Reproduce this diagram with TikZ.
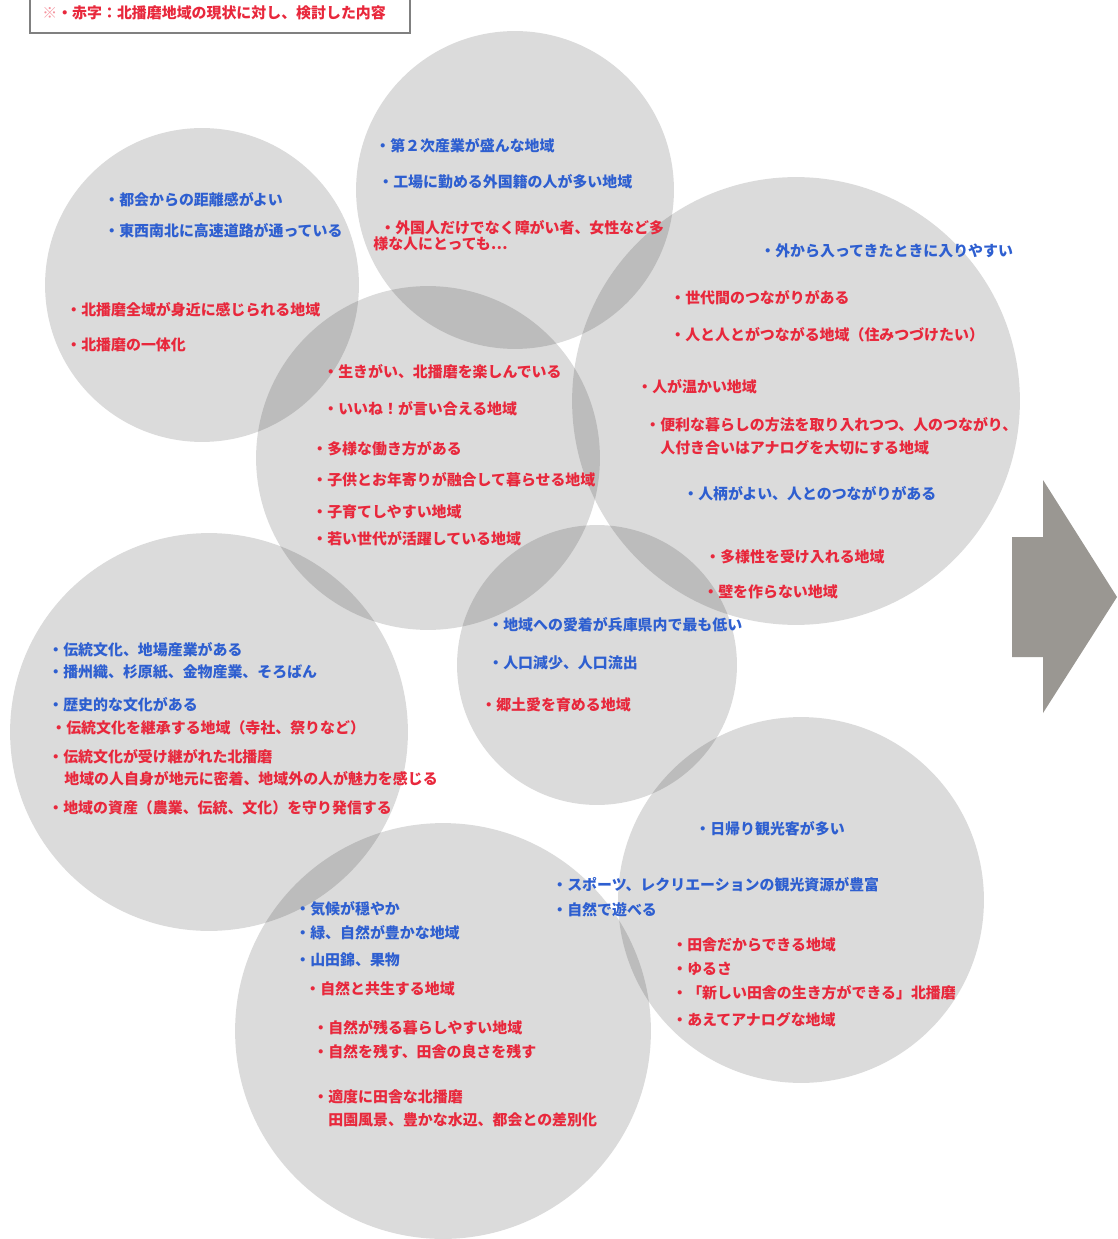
\documentclass[tikz,border=0pt]{standalone}
\usepackage{fontspec}
\setmainfont{Noto Sans CJK JP}
\definecolor{notered}{HTML}{E8283C}
\definecolor{noteblue}{HTML}{2E5FD0}
\definecolor{arrowgray}{HTML}{9A9792}
\tikzset{
	blob/.style={circle, fill=black, fill opacity=.14, inner sep=0pt, outer sep=0pt},
	item/.style={anchor=west, inner sep=0pt, font=\fontsize{8.5}{10}\selectfont\bfseries},
}
\begin{document}
\begin{tikzpicture}[x=0.02cm, y=-0.02cm]
			\useasboundingbox (0,0) rectangle (1117,1239);
			% circles
			\foreach \cx/\cy/\r [count = \i] in {202/285/157, 515/190/159, 428/458/172, 796/401/224, 209/732/199, 597/665/140, 801/900/183, 443/1031/208}
				{
					\node[blob, minimum size=\r*0.04cm] (circ\i) at (\cx,\cy) {};
				}
			% header
			\draw[gray, line width=.06em] (30,-5) rectangle (410,33);
			\node[item, text=notered] (head) at (42,13) {{\color{notered!50}※}・赤字：北播磨地域の現状に対し、検討した内容};
			% items
			\foreach \tx/\ty/\tcol/\ttext [count = \j] in {
					104/200/noteblue/・都会からの距離感がよい,
					104/231/noteblue/・東西南北に高速道路が通っている,
					66/310/notered/・北播磨全域が身近に感じられる地域,
					66/345/notered/・北播磨の一体化,
					375/146/noteblue/・第２次産業が盛んな地域,
					378/182/noteblue/・工場に勤める外国籍の人が多い地域,
					380/228/notered/・外国人だけでなく障がい者、女性など多,
					373/244/notered/様な人にとっても…,
					760/251/noteblue/・外から入ってきたときに入りやすい,
					670/298/notered/・世代間のつながりがある,
					670/335/notered/・人と人とがつながる地域（住みつづけたい）,
					637/387/notered/・人が温かい地域,
					645/425/notered/・便利な暮らしの方法を取り入れつつ、人のつながり、,
					660/448/notered/人付き合いはアナログを大切にする地域,
					683/494/noteblue/・人柄がよい、人とのつながりがある,
					705/557/notered/・多様性を受け入れる地域,
					703/592/notered/・壁を作らない地域,
					323/372/notered/・生きがい、北播磨を楽しんでいる,
					323/409/notered/・いいね！が言い合える地域,
					312/449/notered/・多様な働き方がある,
					312/480/notered/・子供とお年寄りが融合して暮らせる地域,
					312/512/notered/・子育てしやすい地域,
					312/539/notered/・若い世代が活躍している地域,
					488/625/noteblue/・地域への愛着が兵庫県内で最も低い,
					488/663/noteblue/・人口減少、人口流出,
					481/705/notered/・郷土愛を育める地域,
					48/650/noteblue/・伝統文化、地場産業がある,
					48/672/noteblue/・播州織、杉原紙、金物産業、そろばん,
					48/705/noteblue/・歴史的な文化がある,
					51/728/notered/・伝統文化を継承する地域（寺社、祭りなど）,
					48/757/notered/・伝統文化が受け継がれた北播磨,
					64/779/notered/地域の人自身が地元に密着、地域外の人が魅力を感じる,
					48/808/notered/・地域の資産（農業、伝統、文化）を守り発信する,
					695/829/noteblue/・日帰り観光客が多い,
					552/885/noteblue/・スポーツ、レクリエーションの観光資源が豊富,
					552/910/noteblue/・自然で遊べる,
					672/945/notered/・田舎だからできる地域,
					672/969/notered/・ゆるさ,
					672/993/notered/・「新しい田舎の生き方ができる」北播磨,
					672/1020/notered/・あえてアナログな地域,
					295/909/noteblue/・気候が穏やか,
					295/933/noteblue/・緑、自然が豊かな地域,
					295/960/noteblue/・山田錦、果物,
					305/989/notered/・自然と共生する地域,
					313/1028/notered/・自然が残る暮らしやすい地域,
					313/1052/notered/・自然を残す、田舎の良さを残す,
					313/1097/notered/・適度に田舎な北播磨,
					328/1120/notered/田園風景、豊かな水辺、都会との差別化}
				{
					\node[item, text=\tcol] (txt\j) at (\tx,\ty) {\ttext};
				}
			% arrow
			\fill[arrowgray] (1012,537) -- (1043,537) -- (1043,480) -- (1117,597) -- (1043,713) -- (1043,657) -- (1012,657) -- cycle;
		\end{tikzpicture}
\end{document}
